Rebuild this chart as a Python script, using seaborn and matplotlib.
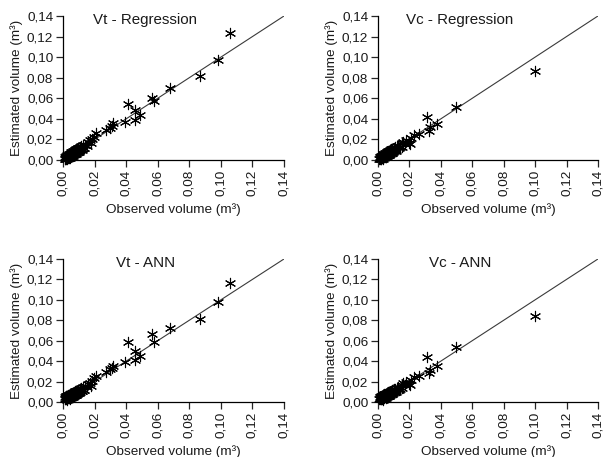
import matplotlib
matplotlib.use("Agg")
import matplotlib.pyplot as plt
import seaborn as sns
import pandas as pd

# Axis ticks shared by all four panels
tick_values = [0.00, 0.02, 0.04, 0.06, 0.08, 0.10, 0.12, 0.14]
tick_labels = ["0,00", "0,02", "0,04", "0,06", "0,08", "0,10", "0,12", "0,14"]

# Total volume (Vt): observed and estimated by regression and by ANN
vt_observed = [
    0.0010, 0.0012, 0.0015, 0.0018, 0.0020, 0.0022, 0.0025, 0.0027, 0.0030, 0.0032,
    0.0035, 0.0038, 0.0040, 0.0042, 0.0045, 0.0048, 0.0050, 0.0052, 0.0055, 0.0058,
    0.0060, 0.0063, 0.0065, 0.0068, 0.0070, 0.0073, 0.0075, 0.0078, 0.0080, 0.0083,
    0.0085, 0.0088, 0.0090, 0.0093, 0.0095, 0.0098, 0.0100, 0.0105, 0.0110, 0.0115,
    0.0120, 0.0125, 0.0130, 0.0140, 0.0150, 0.0160, 0.0170, 0.0175, 0.0185, 0.0195,
    0.0210, 0.0275, 0.0300, 0.0310, 0.0317, 0.0395, 0.0414, 0.0458, 0.0458, 0.0490,
    0.0564, 0.0577, 0.0680, 0.0866, 0.0982, 0.1056,
    0.0028, 0.0045, 0.0062, 0.0085, 0.0102, 0.0120, 0.0135,
]
vt_regression = [
    0.0012, 0.0025, 0.0005, 0.0032, 0.0010, 0.0038, 0.0015, 0.0045, 0.0018, 0.0052,
    0.0024, 0.0058, 0.0028, 0.0062, 0.0030, 0.0068, 0.0038, 0.0075, 0.0042, 0.0080,
    0.0046, 0.0085, 0.0050, 0.0090, 0.0056, 0.0095, 0.0062, 0.0100, 0.0068, 0.0105,
    0.0072, 0.0110, 0.0078, 0.0115, 0.0082, 0.0120, 0.0090, 0.0125, 0.0098, 0.0135,
    0.0108, 0.0142, 0.0120, 0.0150, 0.0138, 0.0172, 0.0192, 0.0162, 0.0202, 0.0225,
    0.0260, 0.0290, 0.0310, 0.0330, 0.0360, 0.0372, 0.0549, 0.0485, 0.0388, 0.0436,
    0.0600, 0.0575, 0.0704, 0.0815, 0.0969, 0.1238,
    0.0010, 0.0022, 0.0040, 0.0060, 0.0080, 0.0100, 0.0115,
]
vt_ann = [
    0.0030, 0.0050, 0.0025, 0.0058, 0.0032, 0.0062, 0.0030, 0.0058, 0.0035, 0.0068,
    0.0038, 0.0070, 0.0042, 0.0075, 0.0040, 0.0078, 0.0046, 0.0082, 0.0050, 0.0086,
    0.0055, 0.0090, 0.0058, 0.0095, 0.0062, 0.0100, 0.0066, 0.0104, 0.0072, 0.0108,
    0.0076, 0.0112, 0.0082, 0.0118, 0.0086, 0.0122, 0.0094, 0.0128, 0.0100, 0.0138,
    0.0110, 0.0146, 0.0122, 0.0155, 0.0142, 0.0178, 0.0188, 0.0160, 0.0205, 0.0230,
    0.0250, 0.0290, 0.0320, 0.0330, 0.0355, 0.0388, 0.0583, 0.0495, 0.0414, 0.0453,
    0.0668, 0.0583, 0.0723, 0.0811, 0.0977, 0.1163,
    0.0018, 0.0028, 0.0045, 0.0065, 0.0085, 0.0104, 0.0118,
]

# Commercial volume (Vc): observed and estimated by regression and by ANN
vc_observed = [
    0.0008, 0.0010, 0.0012, 0.0015, 0.0018, 0.0020, 0.0022, 0.0025, 0.0028, 0.0030,
    0.0033, 0.0035, 0.0038, 0.0040, 0.0043, 0.0045, 0.0048, 0.0050, 0.0053, 0.0055,
    0.0058, 0.0060, 0.0063, 0.0065, 0.0068, 0.0070, 0.0073, 0.0075, 0.0078, 0.0080,
    0.0083, 0.0085, 0.0088, 0.0090, 0.0095, 0.0100, 0.0105, 0.0110, 0.0115, 0.0120,
    0.0130, 0.0140, 0.0150, 0.0160, 0.0170, 0.0180, 0.0195, 0.0206, 0.0210, 0.0227,
    0.0259, 0.0322, 0.0329, 0.0312, 0.0375, 0.0496, 0.1001,
    0.0030, 0.0050, 0.0070, 0.0092, 0.0112, 0.0135, 0.0155,
]
vc_regression = [
    0.0010, 0.0025, 0.0005, 0.0032, 0.0008, 0.0038, 0.0012, 0.0042, 0.0016, 0.0048,
    0.0020, 0.0055, 0.0025, 0.0060, 0.0028, 0.0065, 0.0032, 0.0070, 0.0036, 0.0075,
    0.0040, 0.0080, 0.0045, 0.0085, 0.0050, 0.0090, 0.0056, 0.0095, 0.0060, 0.0100,
    0.0066, 0.0105, 0.0070, 0.0110, 0.0080, 0.0120, 0.0090, 0.0125, 0.0100, 0.0135,
    0.0140, 0.0122, 0.0162, 0.0178, 0.0158, 0.0192, 0.0170, 0.0160, 0.0215, 0.0242,
    0.0249, 0.0284, 0.0323, 0.0420, 0.0349, 0.0517, 0.0863,
    0.0012, 0.0030, 0.0052, 0.0072, 0.0092, 0.0112, 0.0130,
]
vc_ann = [
    0.0030, 0.0045, 0.0025, 0.0052, 0.0028, 0.0058, 0.0030, 0.0062, 0.0034, 0.0066,
    0.0036, 0.0070, 0.0040, 0.0074, 0.0044, 0.0078, 0.0046, 0.0082, 0.0050, 0.0086,
    0.0054, 0.0090, 0.0058, 0.0094, 0.0062, 0.0098, 0.0066, 0.0102, 0.0070, 0.0106,
    0.0074, 0.0110, 0.0078, 0.0114, 0.0086, 0.0124, 0.0096, 0.0130, 0.0106, 0.0140,
    0.0145, 0.0128, 0.0168, 0.0182, 0.0162, 0.0198, 0.0175, 0.0165, 0.0220, 0.0245,
    0.0251, 0.0283, 0.0310, 0.0436, 0.0349, 0.0537, 0.0837,
    0.0020, 0.0035, 0.0055, 0.0076, 0.0096, 0.0116, 0.0135,
]

panels = [
    ("Vt - Regression", vt_observed, vt_regression),
    ("Vc - Regression", vc_observed, vc_regression),
    ("Vt - ANN", vt_observed, vt_ann),
    ("Vc - ANN", vc_observed, vc_ann),
]

sns.set_style("ticks")
plt.rcParams["font.family"] = ["Liberation Sans", "DejaVu Sans"]
text_color = "#1a1a1a"

fig = plt.figure(figsize=(6.04, 4.57), dpi=100)
# Axes boxes in figure fractions: [left, bottom, width, height]
boxes = [
    [0.1043, 0.6499, 0.3659, 0.3151],
    [0.6258, 0.6499, 0.3642, 0.3151],
    [0.1043, 0.1204, 0.3659, 0.3129],
    [0.6258, 0.1204, 0.3642, 0.3129],
]

for (title, obs, est), box in zip(panels, boxes):
    ax = fig.add_axes(box)
    df = pd.DataFrame({"observed": obs, "estimated": est})

    # 1:1 reference line across the full axis range
    ref = pd.DataFrame({"x": [tick_values[0], tick_values[-1]],
                        "y": [tick_values[0], tick_values[-1]]})
    sns.lineplot(data=ref, x="x", y="y", ax=ax, color="#3a3a3a",
                 linewidth=0.8, zorder=1)

    sns.scatterplot(data=df, x="observed", y="estimated", ax=ax,
                    marker=(6, 2, 0), s=55, color="black", linewidth=0.8,
                    zorder=2, clip_on=False)

    ax.set_xlim(tick_values[0], tick_values[-1])
    ax.set_ylim(tick_values[0], tick_values[-1])
    ax.set_xticks(tick_values)
    ax.set_yticks(tick_values)
    ax.set_xticklabels(tick_labels, rotation=90)
    ax.set_yticklabels(tick_labels)
    ax.tick_params(axis="both", direction="out", length=5, width=0.9,
                   labelsize=9.7, labelcolor=text_color, pad=2)
    for side in ("left", "bottom"):
        ax.spines[side].set_linewidth(0.9)
        ax.spines[side].set_color("black")
    sns.despine(ax=ax)

    ax.set_xlabel("Observed volume (m³)", fontsize=9.7, color=text_color,
                  labelpad=5)
    ax.set_ylabel("Estimated volume (m³)", fontsize=9.7, color=text_color,
                  labelpad=3)
    ax.text(0.052, 0.136, title, ha="center", va="center", fontsize=10.9,
            color=text_color)

fig.savefig("out.png", dpi=100)
